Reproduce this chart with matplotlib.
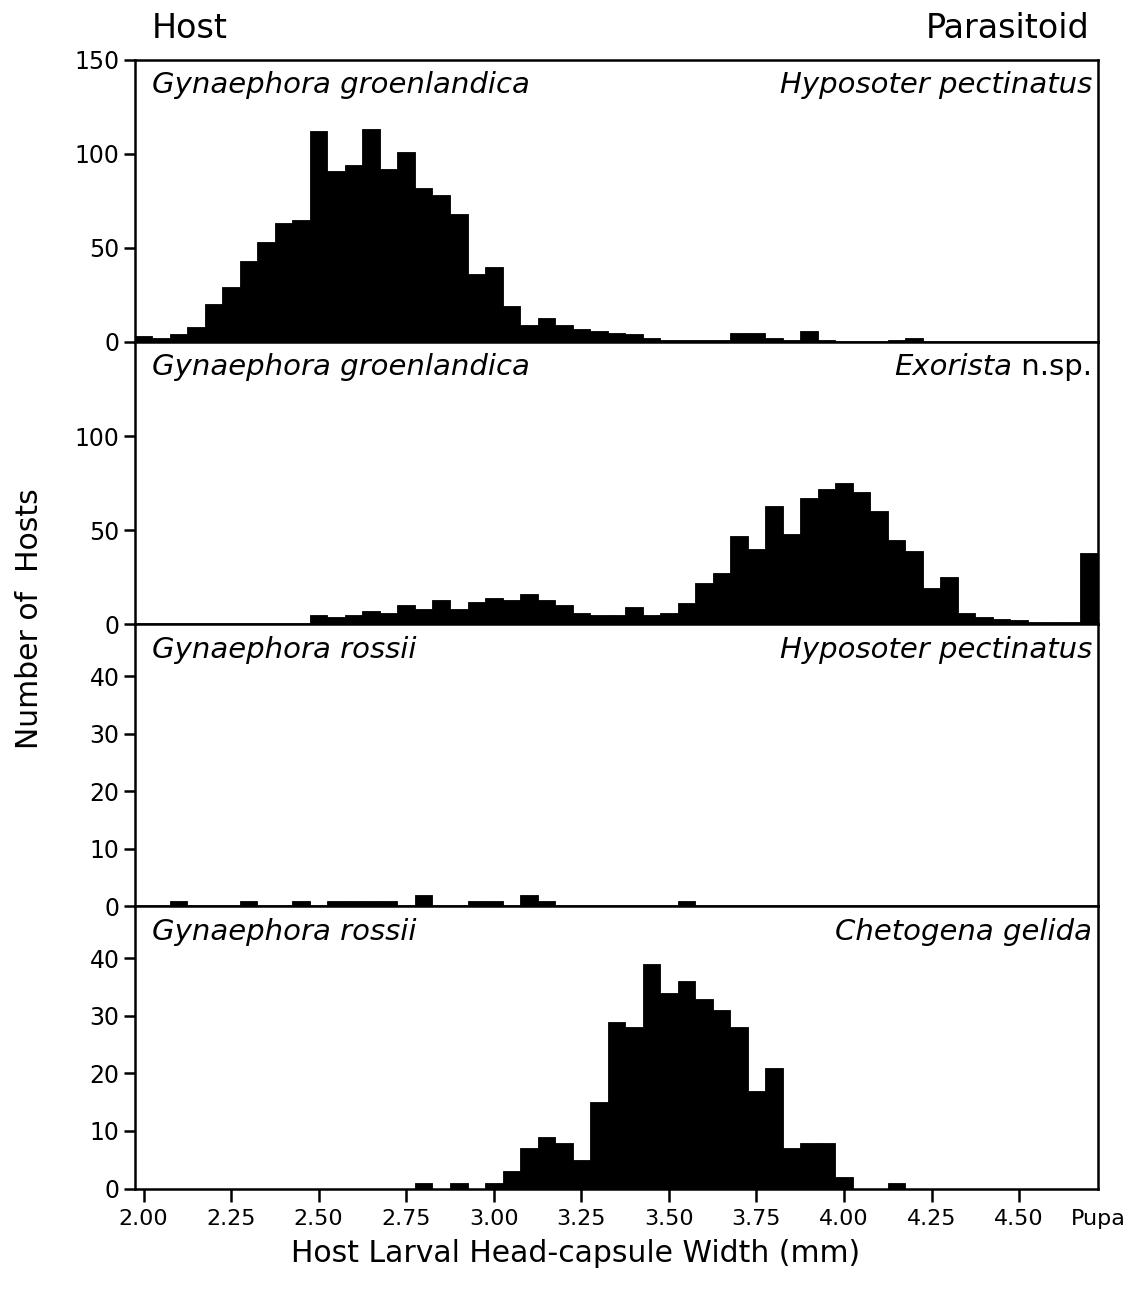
import numpy as np
import matplotlib
matplotlib.use("Agg")
import matplotlib.pyplot as plt

# head-capsule width classes (mm), last class is pupae
width_labels = ["2.00", "2.05", "2.10", "2.15", "2.20", "2.25", "2.30", "2.35", "2.40", "2.45",
                "2.50", "2.55", "2.60", "2.65", "2.70", "2.75", "2.80", "2.85", "2.90", "2.95",
                "3.00", "3.05", "3.10", "3.15", "3.20", "3.25", "3.30", "3.35", "3.40", "3.45",
                "3.50", "3.55", "3.60", "3.65", "3.70", "3.75", "3.80", "3.85", "3.90", "3.95",
                "4.00", "4.05", "4.10", "4.15", "4.20", "4.25", "4.30", "4.35", "4.40", "4.45",
                "4.50", "4.55", "4.60", "4.65", "Pupa"]

groen_hyposoter = [3, 2, 4, 8, 20, 29, 43, 53, 63, 65,
                   112, 91, 94, 113, 92, 101, 82, 78, 68, 36,
                   40, 19, 9, 13, 9, 7, 6, 5, 4, 2,
                   1, 1, 1, 1, 5, 5, 2, 1, 6, 1,
                   0, 0, 0, 1, 2, 0, 0, 0, 0, 0,
                   0, 0, 0, 0, 0]
groen_exorista = [0, 0, 0, 0, 0, 0, 0, 0, 0, 0,
                  5, 4, 5, 7, 6, 10, 8, 13, 8, 12,
                  14, 13, 16, 13, 10, 6, 5, 5, 9, 5,
                  6, 11, 22, 27, 47, 40, 63, 48, 67, 72,
                  75, 70, 60, 45, 39, 19, 25, 6, 4, 3,
                  2, 1, 1, 1, 38]
rossii_hyposoter = [0, 0, 1, 0, 0, 0, 1, 0, 0, 1,
                    0, 1, 1, 1, 1, 0, 2, 0, 0, 1,
                    1, 0, 2, 1, 0, 0, 0, 0, 0, 0,
                    0, 1, 0, 0, 0, 0, 0, 0, 0, 0,
                    0, 0, 0, 0, 0, 0, 0, 0, 0, 0,
                    0, 0, 0, 0, 0]
rossii_chetogena = [0, 0, 0, 0, 0, 0, 0, 0, 0, 0,
                    0, 0, 0, 0, 0, 0, 1, 0, 1, 0,
                    1, 3, 7, 9, 8, 5, 15, 29, 28, 39,
                    34, 36, 33, 31, 28, 17, 21, 7, 8, 8,
                    2, 0, 0, 1, 0, 0, 0, 0, 0, 0,
                    0, 0, 0, 0, 0]

hosts = ["Gynaephora groenlandica", "Gynaephora groenlandica", "Gynaephora rossii", "Gynaephora rossii"]
parasitoids = [("Hyposoter pectinatus", None), ("Exorista", " n.sp."),
               ("Hyposoter pectinatus", None), ("Chetogena gelida", None)]
yticks = [[0, 50, 100, 150], [0, 50, 100], [0, 10, 20, 30, 40], [0, 10, 20, 30, 40]]
ylims = [150, 150, 49, 49]
xtick_labels = ["2.00", "2.25", "2.50", "2.75", "3.00", "3.25", "3.50", "3.75", "4.00", "4.25", "4.50"]

# bar positions: numeric widths, pupa class placed one bin past 4.65
pos = [float(w) for w in width_labels[:-1]] + [4.70]
xmin, xmax = 1.975, 4.725

plt.rcParams['font.family'] = ['DejaVu Sans']
fig, axes = plt.subplots(4, 1, figsize=(11.33, 12.99), dpi=100, sharex=True)
fig.subplots_adjust(left=0.119, right=0.969, top=0.954, bottom=0.085, hspace=0)

label_size = 21
series = [groen_hyposoter, groen_exorista, rossii_hyposoter, rossii_chetogena]
for i, ax in enumerate(axes):
    ax.bar(pos, series[i], width=0.05, align="center", color="black",
           edgecolor="black", linewidth=0.6)
    ax.set_xlim(xmin, xmax)
    ax.set_ylim(0, ylims[i])
    ax.set_yticks(yticks[i])
    ax.tick_params(axis="y", direction="out", length=8, width=1.8, labelsize=17, pad=3)
    for s in ax.spines.values():
        s.set_linewidth(1.8)
    ax.text(0.018, 0.91, hosts[i], transform=ax.transAxes, fontsize=label_size,
            style="italic", ha="left", va="center")
    name, extra = parasitoids[i]
    if extra:
        t = ax.text(0.994, 0.91, extra, transform=ax.transAxes, fontsize=label_size,
                    ha="right", va="center")
        fig.canvas.draw()
        bb = t.get_window_extent().transformed(ax.transAxes.inverted())
        ax.text(bb.x0, 0.91, name, transform=ax.transAxes, fontsize=label_size,
                style="italic", ha="right", va="center")
    else:
        ax.text(0.994, 0.91, name, transform=ax.transAxes, fontsize=label_size,
                style="italic", ha="right", va="center")
    if i < 3:
        ax.tick_params(axis="x", length=0)

bottom = axes[-1]
bottom.set_xticks([float(v) for v in xtick_labels] + [xmax])
bottom.set_xticklabels(xtick_labels + ["Pupa"])
bottom.tick_params(axis="x", direction="out", length=9, width=1.8, labelsize=16, pad=6)
bottom.xaxis.get_major_ticks()[-1].tick1line.set_visible(False)

fig.text(0.134, 0.978, "Host", fontsize=24, ha="left", va="center")
fig.text(0.962, 0.978, "Parasitoid", fontsize=24, ha="right", va="center")
fig.text(0.026, 0.524, "Number of  Hosts", fontsize=21.5, rotation=90, ha="center", va="center")
fig.text(0.508, 0.035, "Host Larval Head-capsule Width (mm)", fontsize=21.5, ha="center", va="center")

plt.savefig("out.png", dpi=100)
